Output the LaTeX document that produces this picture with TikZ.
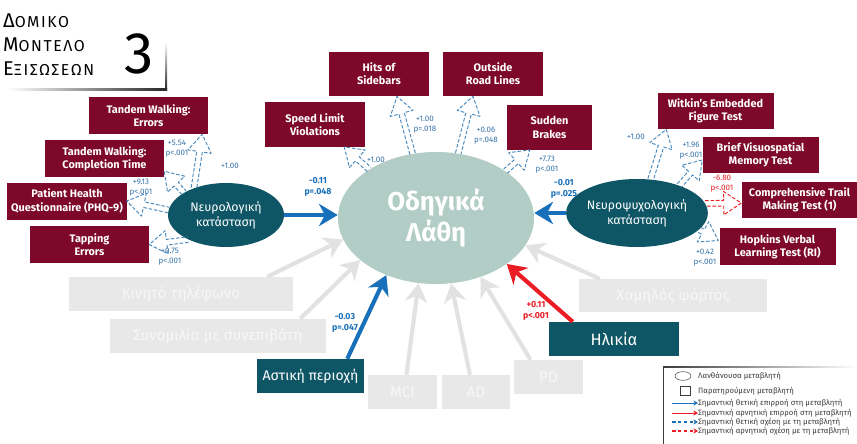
\documentclass[tikz,border=0pt]{standalone}
\usepackage{fontspec}
\setmainfont{Fira Sans}
\newfontfamily\titlefont{Fira Sans}[LetterSpace=10]
\usepackage{tikz}
\usetikzlibrary{shapes.geometric, arrows.meta, positioning, calc}

\definecolor{maroon}{RGB}{125,8,42}
\definecolor{petrol}{RGB}{14,86,102}
\definecolor{sage}{RGB}{178,204,198}
\definecolor{fog}{RGB}{232,232,232}
\definecolor{fogtext}{RGB}{247,247,247}
\definecolor{fogline}{RGB}{226,226,226}
\definecolor{posblue}{RGB}{25,112,186}
\definecolor{dashblue}{RGB}{70,136,188}
\definecolor{lblblue}{RGB}{55,115,170}
\definecolor{negred}{RGB}{236,28,36}
\definecolor{legtext}{RGB}{60,60,60}

\begin{document}
\begin{tikzpicture}[
    x=0.03cm, y=-0.03cm,
    % --- BOXES AND ELLIPSES ---
    box/.style={rectangle, align=center, inner sep=2pt, text=white, font=\fontsize{9.3}{11.3}\selectfont\bfseries},
    ind/.style={box, fill=maroon, minimum width=3.57cm, minimum height=1.11cm},
    indtop/.style={box, fill=maroon, minimum width=3.0cm, minimum height=1.33cm},
    indright/.style={box, fill=maroon, minimum width=3.48cm, minimum height=1.09cm},
    latent/.style={ellipse, fill=petrol, text=white, align=center, inner sep=0pt, font=\fontsize{10.5}{13}\selectfont},
    outcome/.style={ellipse, fill=sage, text=white, align=center, inner sep=0pt, font=\fontsize{22}{27}\selectfont\bfseries},
    faded/.style={rectangle, fill=fog, text=fogtext, inner sep=0pt, minimum height=1.02cm, font=\fontsize{13}{15}\selectfont},
    sigbox/.style={rectangle, fill=petrol, text=white, inner sep=0pt, minimum height=1.02cm, font=\fontsize{12}{14}\selectfont},
    % --- LABELS ---
    coef/.style={align=center, inner sep=0pt, text=lblblue, font=\fontsize{6.8}{8.3}\selectfont},
    coefbig/.style={align=center, inner sep=0pt, text=posblue, font=\fontsize{7.5}{10}\selectfont\bfseries},
    legtxt/.style={anchor=west, inner sep=0pt, text=legtext, font=\fontsize{6.6}{7.5}\selectfont},
    % --- CONNECTORS ---
    effect/.style={draw=#1, line width=3.5pt, -{Stealth[length=16pt, width=19pt, inset=5pt]}},
    nsarrow/.style={effect=fogline},
    hollow/.style={draw=#1, line width=0.8pt, dash pattern=on 3pt off 1.6pt, line join=round,
      to path={let \p1=(\tikztostart), \p2=(\tikztotarget),
        \n1={atan2(\y2-\y1,\x2-\x1)}, \n2={veclen(\x2-\x1,\y2-\y1)} in
        ($(\p1)+(\n1+90:2.4pt)$) -- ++(\n1:{\n2-15pt}) -- ++(\n1+90:7.6pt) -- (\p2)
        -- ($(\p2)+(\n1:-15pt)+(\n1-90:10pt)$) -- ++(\n1+90:7.6pt) -- ++(\n1:{15pt-\n2})}},
    legarrow/.style={draw=#1, line width=0.8pt, -{Stealth[length=4pt, width=4.5pt]}},
    legdash/.style={legarrow=#1, line width=1.2pt, dash pattern=on 3pt off 2pt}
]
\path[use as bounding box, fill=white] (0,0) rectangle (857,444);

% ==========================================
% TITLE
% ==========================================
\node[anchor=north west, align=left, inner sep=0pt, font=\titlefont\fontsize{13.5}{20.5}\selectfont] (title) at (3,14)
  {{\fontsize{17}{20.5}\selectfont Δ}ΟΜΙΚΟ\\{\fontsize{17}{20.5}\selectfont Μ}ΟΝΤΕΛΟ\\{\fontsize{17}{20.5}\selectfont Ε}ΞΙΣΩΣΕΩΝ};
\node[inner sep=0pt, font=\fontsize{50}{50}\selectfont] (title_no) at (139,54) {3};
\shade[top color=white, bottom color=black!85] (165,42) rectangle (167,90);
\shade[left color=white, right color=black!85] (8,88) rectangle (167,90);

% ==========================================
% LATENT VARIABLES AND OUTCOME
% ==========================================
\node[latent, minimum width=3.48cm, minimum height=1.92cm] (neuro) at (226,215) {Νευρολογική\\κατάσταση};
\node[outcome, minimum width=5.88cm, minimum height=3.96cm] (errors) at (436,218) {Οδηγικά\\Λάθη};
\node[latent, minimum width=3.72cm, minimum height=2.04cm] (neuropsy) at (637,213) {Νευροψυχολογική\\κατάσταση};

% ==========================================
% INDICATORS (MAROON)
% ==========================================
\node[ind] (twerr) at (148.5,115.5) {Tandem Walking:\\Errors};
\node[ind] (twtime) at (104.5,158.5) {Tandem Walking:\\Completion Time};
\node[ind] (phq) at (67,201) {Patient Health\\Questionnaire (PHQ-9)};
\node[ind] (tap) at (89.5,244.5) {Tapping\\Errors};

\node[indtop] (hits) at (379,74) {Hits of\\Sidebars};
\node[indtop] (roadlines) at (493,74) {Outside\\Road Lines};
\node[indtop] (speed) at (315,124.5) {Speed Limit\\Violations};
\node[indtop, minimum width=2.55cm] (brakes) at (549.5,127.5) {Sudden\\Brakes};

\node[indright] (witkin) at (715.5,111) {Witkin’s Embedded\\Figure Test};
\node[indright] (bvmt) at (760.5,155) {Brief Visuospatial\\Memory Test};
\node[indright] (trail) at (799.5,200) {Comprehensive Trail\\Making Test (1)};
\node[indright] (hvlt) at (777.5,246.5) {Hopkins Verbal\\Learning Test (RI)};

% ==========================================
% PREDICTORS (GRAY = N.S., PETROL = SIGNIFICANT)
% ==========================================
\node[faded, minimum width=6.72cm] (phone) at (181,294) {Κινητό τηλέφωνο};
\node[faded, minimum width=6.48cm] (talk) at (218,336) {Συνομιλία με συνεπιβάτη};
\node[sigbox, minimum width=3.21cm] (urban) at (310.5,376) {Αστική περιοχή};
\node[faded, minimum width=2.07cm] (mci) at (402.5,392) {MCI};
\node[faded, minimum width=2.04cm] (ad) at (476,392) {AD};
\node[faded, minimum width=2.07cm] (pd) at (548.5,377) {PD};
\node[sigbox, minimum width=3.9cm, font=\fontsize{14}{16}\selectfont] (age) at (614,339) {Ηλικία};
\node[faded, minimum width=5.64cm, minimum height=0.99cm] (lowload) at (673,295.5) {Χαμηλός φόρτος};

% non-significant paths
\draw[nsarrow] ($(phone.north east)+(-26,0)$) -- (errors.193);
\draw[nsarrow] ($(talk.north east)+(-26,0)$) -- (errors.209);
\draw[nsarrow] ($(mci.north)+(4,0)$) -- (errors.255);
\draw[nsarrow] ($(ad.north)+(-6,0)$) -- (errors.283);
\draw[nsarrow] ($(pd.north)+(-18,0)$) -- (errors.307);
\draw[nsarrow] ($(lowload.north west)+(21,0)$) -- (errors.343);

% significant paths
\draw[effect=posblue] (neuro.east) -- (neuro.east -| errors.west);
\draw[effect=posblue] (neuropsy.west) -- (neuropsy.west -| errors.east);
\draw[effect=posblue] ($(urban.north east)+(-17,0)$) -- (errors.229);
\draw[effect=negred] ($(age.north west)+(24,0)$) -- (errors.327);

\node[coefbig] (lbl_neuro) at (318,187) {-0.11\\p=.048};
\node[coefbig] (lbl_neuropsy) at (564,189) {-0.01\\p=.025};
\node[coefbig] (lbl_urban) at (345,323) {-0.03\\p=.047};
\node[coefbig, text=negred] (lbl_age) at (536,311) {+0.11\\p<.001};

% ==========================================
% LOADINGS (HOLLOW DASHED)
% ==========================================
\coordinate (twerr_in) at ($(twerr.south east)+(-6,0)$);
\coordinate (twtime_in) at ($(twtime.south east)+(0,-6)$);
\coordinate (speed_in) at ($(speed.south east)+(-21,0)$);
\coordinate (hits_in) at ($(hits.south)+(18,0)$);
\coordinate (roadlines_in) at ($(roadlines.south)+(-20,0)$);
\coordinate (brakes_in) at ($(brakes.south west)+(23,0)$);
\coordinate (witkin_in) at ($(witkin.south west)+(9,0)$);
\coordinate (bvmt_in) at ($(bvmt.west)+(0,5)$);
\coordinate (trail_in) at ($(trail.west)+(0,3)$);
\coordinate (hvlt_in) at ($(hvlt.west)+(-1,-6)$);

\draw[hollow=dashblue] (neuro.140) to (twerr_in);
\draw[hollow=dashblue] (neuro.152) to (twtime_in);
\draw[hollow=dashblue] (neuro.175) to (phq.east);
\draw[hollow=dashblue] (neuro.213) to (tap.east);
\draw[hollow=dashblue] (errors.144) to (speed_in);
\draw[hollow=dashblue] (errors.110) to (hits_in);
\draw[hollow=dashblue] (errors.71) to (roadlines_in);
\draw[hollow=dashblue] (errors.34) to (brakes_in);
\draw[hollow=dashblue] (neuropsy.68) to (witkin_in);
\draw[hollow=dashblue] (neuropsy.33) to (bvmt_in);
\draw[hollow=negred] (neuropsy.8) to (trail_in);
\draw[hollow=dashblue] (neuropsy.345) to (hvlt_in);

\node[coef] (lbl_twerr) at (230,166) {+1.00};
\node[coef] (lbl_twtime) at (177,149) {+5.54\\p<.001};
\node[coef] (lbl_phq) at (141,188) {+9.13\\p<.001};
\node[coef] (lbl_tap) at (170,257) {+0.75\\p<.001};
\node[coef] (lbl_speed) at (376,160) {+1.00};
\node[coef] (lbl_hits) at (425,125) {+1.00\\p=.018};
\node[coef] (lbl_roadlines) at (486,136) {+0.06\\p=.048};
\node[coef] (lbl_brakes) at (547,165) {+7.73\\p<.001};
\node[coef] (lbl_witkin) at (636,137) {+1.00};
\node[coef] (lbl_bvmt) at (691,151) {+1.96\\p<.001};
\node[coef, text=negred] (lbl_trail) at (722,184) {-6.80\\p<.001};
\node[coef] (lbl_hvlt) at (705,258) {+0.42\\p<.001};

% ==========================================
% LEGEND
% ==========================================
\shade[left color=legtext, right color=white] (663,366.4) rectangle (857,367.6);
\draw[legtext, line width=0.7pt] (663,367) -- (663,444);

\node[draw=legtext, ellipse, thin, inner sep=0pt, minimum width=0.48cm, minimum height=0.26cm] (lg_ell) at (683,376) {};
\node[draw=legtext, rectangle, thin, inner sep=0pt, minimum width=0.3cm, minimum height=0.26cm] (lg_sq) at (685.5,391) {};
\node[legtxt] (lg_t1) at (698,376) {Λανθάνουσα μεταβλητή};
\node[legtxt] (lg_t2) at (698,391) {Παρατηρούμενη μεταβλητή};
\node[legtxt] (lg_t3) at (698,403) {Σημαντική θετική επιρροή στη μεταβλητή};
\node[legtxt] (lg_t4) at (698,413) {Σημαντική αρνητική επιρροή στη μεταβλητή};
\node[legtxt] (lg_t5) at (698,422) {Σημαντική θετική σχέση με τη μεταβλητή};
\node[legtxt] (lg_t6) at (698,431) {Σημαντική αρνητική σχέση με τη μεταβλητή};

\foreach \n/\y in {3/403, 4/413, 5/422, 6/431} {
    \coordinate (lg_a\n) at (672,\y);
}
\draw[legarrow=posblue] (lg_a3) -- (lg_t3.west);
\draw[legarrow=negred] (lg_a4) -- (lg_t4.west);
\draw[legdash=posblue] (lg_a5) -- (lg_t5.west);
\draw[legdash=negred] (lg_a6) -- (lg_t6.west);

\end{tikzpicture}
\end{document}
